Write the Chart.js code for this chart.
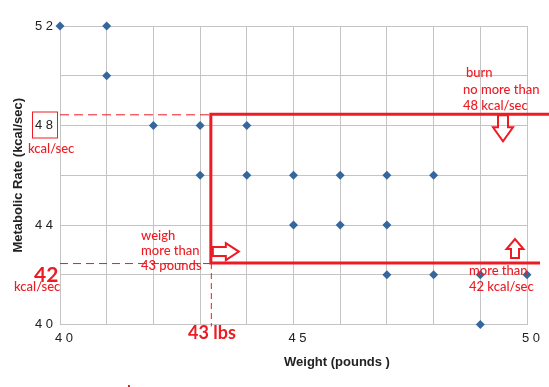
<!DOCTYPE html>
<html>
<head>
<meta charset="utf-8">
<script src="https://cdn.jsdelivr.net/npm/chart.js@4/dist/chart.umd.min.js"></script>
<style>
  html, body { margin: 0; padding: 0; background: #ffffff; }
  canvas { display: block; }
</style>
</head>
<body>
<canvas id="c" width="549" height="387"></canvas>
<script>
// ---- data ----
const weights = [40, 41, 41, 42, 43, 44, 43, 44, 45, 46, 47, 48, 45, 46, 47, 47, 48, 49, 50, 49];
const rates   = [52, 52, 50, 48, 48, 48, 46, 46, 46, 46, 46, 46, 44, 44, 44, 42, 42, 42, 42, 40];
const xTickLabels = [40, 45, 50];
const yTickLabels = [40, 44, 48, 52];
const xTitle = 'Weight (pounds )';
const yTitle = 'Metabolic Rate (kcal/sec)';
// annotation thresholds (values)
const weightLimit = 43.23;
const upperRate = 48.45;
const lowerRate = 42.47;

const RED = '#ed1c24';
const spaced = v => String(v).split('').join(' ');

const annotate = {
  id: 'annotate',
  afterDatasetsDraw(chart) {
    const { ctx, chartArea: ca, scales: { x, y } } = chart;
    const xv = x.getPixelForValue(weightLimit);
    const yT = y.getPixelForValue(upperRate);
    const yB = y.getPixelForValue(lowerRate);
    const W = chart.width;
    const line = (a, b, c, d) => { ctx.beginPath(); ctx.moveTo(a, b); ctx.lineTo(c, d); ctx.stroke(); };
    ctx.save();
    ctx.strokeStyle = RED;
    ctx.fillStyle = RED;
    // dashed guides
    ctx.lineWidth = 1;
    ctx.setLineDash([9, 5]);
    line(ca.left, yT + 0.5, xv, yT + 0.5);
    ctx.setLineDash([8, 5]);
    line(ca.left, yB + 0.5, xv, yB + 0.5);
    ctx.setLineDash([6, 4]);
    line(xv + 0.5, yB, xv + 0.5, ca.bottom + 2);
    ctx.setLineDash([]);
    // thick region bounds
    ctx.lineWidth = 3;
    ctx.lineJoin = 'miter';
    ctx.beginPath();
    ctx.moveTo(W, yT);
    ctx.lineTo(xv, yT);
    ctx.lineTo(xv, yB);
    ctx.lineTo(W - 9, yB);
    ctx.stroke();
    // arrows (outlined)
    ctx.lineWidth = 2;
    // right arrow
    ctx.beginPath();
    ctx.moveTo(xv + 2, yB - 16);
    ctx.lineTo(xv + 15, yB - 16);
    ctx.lineTo(xv + 15, yB - 20);
    ctx.lineTo(xv + 28, yB - 11.5);
    ctx.lineTo(xv + 15, yB - 3);
    ctx.lineTo(xv + 15, yB - 7);
    ctx.lineTo(xv + 2, yB - 7);
    ctx.closePath();
    ctx.stroke();
    // down arrow
    const dx = ca.right - 24;
    ctx.beginPath();
    ctx.moveTo(dx - 5, yT + 1);
    ctx.lineTo(dx + 5, yT + 1);
    ctx.lineTo(dx + 5, yT + 13);
    ctx.lineTo(dx + 10, yT + 13);
    ctx.lineTo(dx, yT + 27);
    ctx.lineTo(dx - 10, yT + 13);
    ctx.lineTo(dx - 5, yT + 13);
    ctx.closePath();
    ctx.stroke();
    // up arrow
    const ux = ca.right - 12;
    ctx.beginPath();
    ctx.moveTo(ux - 4, yB - 5);
    ctx.lineTo(ux + 4, yB - 5);
    ctx.lineTo(ux + 4, yB - 14);
    ctx.lineTo(ux + 8.5, yB - 14);
    ctx.lineTo(ux, yB - 24);
    ctx.lineTo(ux - 8.5, yB - 14);
    ctx.lineTo(ux - 4, yB - 14);
    ctx.closePath();
    ctx.stroke();
    // box around the 48 tick label
    ctx.lineWidth = 1;
    const y48 = y.getPixelForValue(48);
    ctx.strokeRect(32.5, y48 - 13.5, 25, 26);

    // texts
    ctx.textBaseline = 'middle';
    ctx.textAlign = 'left';
    ctx.font = '500 13px Lato';
    ctx.fillText('kcal/sec', 28, y48 + 23);
    ctx.fillText('weigh', 141, yB - 27);
    ctx.fillText('more than', 141, yB - 12);
    ctx.fillText('43 pounds', 141, yB + 3);
    ctx.fillText('burn', 466, yT - 41);
    ctx.fillText('no more than', 463, yT - 24);
    ctx.fillText('48 kcal/sec', 463, yT - 8);
    ctx.fillText('more than', 469, yB + 8);
    ctx.fillText('42 kcal/sec', 469, yB + 24);
    ctx.fillText('kcal/sec', 14, yB + 24);
    ctx.font = 'bold 21px Lato';
    ctx.fillText('42', 34, yB + 12);
    ctx.font = 'bold 18px Lato';
    ctx.fillText('43 lbs', 188, ca.bottom + 9);
    ctx.fillRect(128, 385, 2, 2);

    // x axis title
    ctx.fillStyle = '#222222';
    ctx.font = 'bold 13px "Liberation Sans", Arial, sans-serif';
    ctx.textAlign = 'center';
    ctx.fillText(xTitle, 337, 362);
    ctx.restore();
  }
};

new Chart(document.getElementById('c'), {
  type: 'scatter',
  data: {
    datasets: [{
      data: weights.map((w, i) => ({ x: w, y: rates[i] })),
      pointStyle: 'rectRot',
      pointRadius: 4.5,
      pointHoverRadius: 4.5,
      backgroundColor: '#35679e',
      borderColor: '#35679e',
      borderWidth: 0,
      clip: false
    }]
  },
  options: {
    responsive: false,
    animation: false,
    devicePixelRatio: 1,
    layout: { padding: { left: 0, right: 22, top: 26, bottom: 0 } },
    plugins: { legend: { display: false }, tooltip: { enabled: false } },
    scales: {
      x: {
        type: 'linear',
        min: 40, max: 50,
        afterFit: s => { s.height = 62.5; },
        grid: { color: '#c4c4c4', drawTicks: false },
        border: { color: '#c4c4c4' },
        ticks: {
          stepSize: 1,
          autoSkip: false,
          maxRotation: 0,
          padding: 6,
          labelOffset: 4,
          color: '#222222',
          font: { family: '"Liberation Sans", Arial, sans-serif', size: 13 },
          callback: v => xTickLabels.includes(v) ? spaced(v) : ''
        },
        title: { display: false, text: xTitle }
      },
      y: {
        type: 'linear',
        min: 40, max: 52,
        afterFit: s => { s.width = 60; },
        grid: { color: '#c4c4c4', drawTicks: false },
        border: { color: '#c4c4c4' },
        ticks: {
          stepSize: 2,
          autoSkip: false,
          padding: 7,
          color: '#222222',
          font: { family: '"Liberation Sans", Arial, sans-serif', size: 13 },
          callback: v => yTickLabels.includes(v) ? spaced(v) : ''
        },
        title: {
          display: true,
          text: yTitle,
          color: '#222222',
          font: { family: '"Liberation Sans", Arial, sans-serif', size: 13, weight: 'bold' },
          padding: { top: 11, bottom: 0 }
        }
      }
    }
  },
  plugins: [annotate]
});
</script>
</body>
</html>
